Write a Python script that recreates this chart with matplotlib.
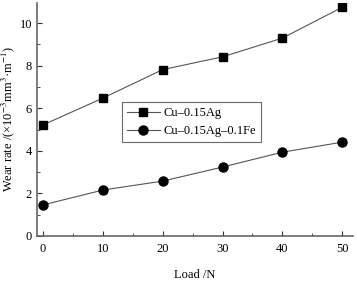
import matplotlib
matplotlib.use("Agg")
import matplotlib.pyplot as plt
from matplotlib.ticker import MultipleLocator

plt.rcParams['font.family'] = ['Liberation Serif', 'DejaVu Serif']
plt.rcParams['mathtext.fontset'] = 'stix'

# Data
load = [0, 10, 20, 30, 40, 50]
wear_ag = [5.22, 6.48, 7.82, 8.42, 9.30, 10.75]
wear_ag_fe = [1.46, 2.16, 2.58, 3.24, 3.94, 4.41]
labels = ["Cu\u20130.15Ag", "Cu\u20130.15Ag\u20130.1Fe"]

fig = plt.figure(figsize=(3.57, 2.83), dpi=100)
ax = fig.add_axes([37 / 357, 47 / 283, 316 / 357, 233 / 283])

ax.plot(load, wear_ag, color='#555555', lw=0.8, marker='s', ms=5.5,
        mfc='black', mec='black', label=labels[0])
ax.plot(load, wear_ag_fe, color='#555555', lw=0.8, marker='o', ms=6.5,
        mfc='black', mec='black', label=labels[1])

ax.set_xlim(-1, 51.8)
ax.set_ylim(0, 10.95)
ax.xaxis.set_major_locator(MultipleLocator(10))
ax.xaxis.set_minor_locator(MultipleLocator(5))
ax.yaxis.set_major_locator(MultipleLocator(2))
ax.yaxis.set_minor_locator(MultipleLocator(1))
ax.tick_params(which='both', direction='in', labelsize=9, color='#333333')
ax.tick_params(which='major', length=3.5)
ax.tick_params(which='minor', length=2)
ax.tick_params(axis='x', pad=5)

for side in ['top', 'right']:
    ax.spines[side].set_visible(False)
for side in ['left', 'bottom']:
    ax.spines[side].set_color('#666666')
    ax.spines[side].set_linewidth(1.2)

ax.set_xlabel("Load /N", fontsize=9, labelpad=10)
ax.set_ylabel("Wear rate /(\u00d710$^{-3}$mm$^{3}$\u00b7m$^{-1}$)", fontsize=9, labelpad=2)

leg = ax.legend(loc='upper left', bbox_to_anchor=(85 / 316, 134 / 233), fontsize=9,
                frameon=True, fancybox=False, edgecolor='#444444', borderpad=0.4,
                handlelength=2.6, labelspacing=0.5, handletextpad=0.3,
                borderaxespad=0)
leg.get_frame().set_linewidth(0.8)

fig.savefig("out.png", dpi=100)
